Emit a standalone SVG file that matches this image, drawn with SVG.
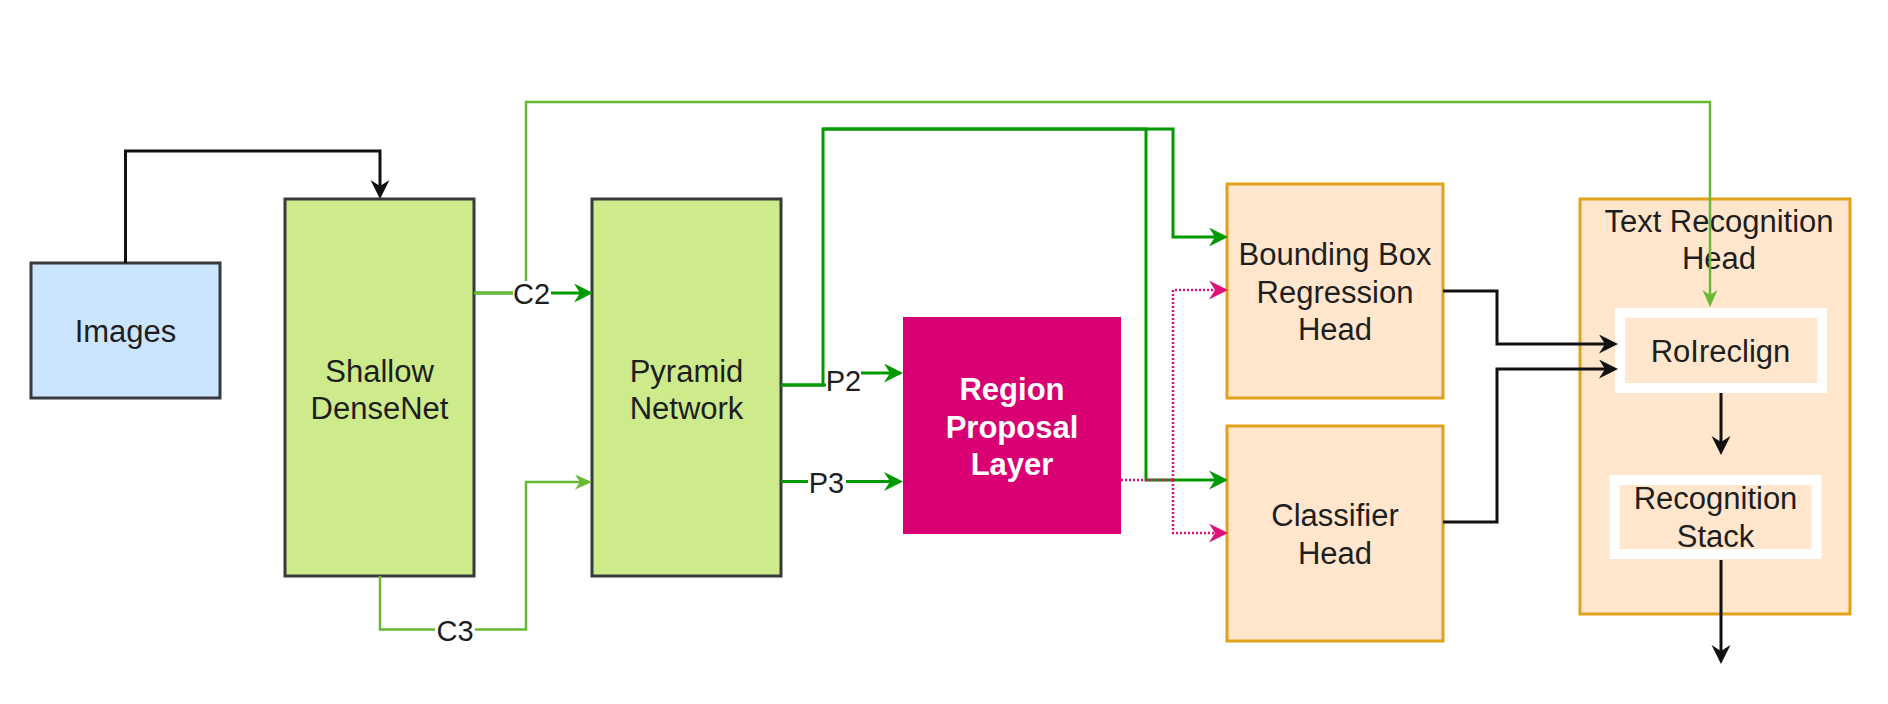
<svg xmlns="http://www.w3.org/2000/svg" width="1888" height="704" viewBox="0 0 1888 704">
<defs>
<style>
.t{font-family:"Liberation Sans",Arial,Helvetica,sans-serif;font-size:31px;fill:#1e1e1e;text-anchor:middle}
.lbl{font-family:"Liberation Sans",Arial,Helvetica,sans-serif;font-size:29px;fill:#1e1e1e;text-anchor:middle}
.wb{fill:#ffffff;font-weight:bold}
.g{fill:#cdeb8b;stroke:#36393d;stroke-width:3}
.o{fill:#ffe6cc;stroke:#e0a21a;stroke-width:3}
.inner{fill:#ffe6cc;stroke:#ffffff;stroke-width:10}
.e{fill:none;stroke-linejoin:miter}
.blk{stroke:#111111;stroke-width:3;marker-end:url(#aBlk)}
.dg{stroke:#009900;stroke-width:3;marker-end:url(#aDg)}
.lg{stroke:#66bb33;stroke-width:2.5;marker-end:url(#aLg)}
.pk{stroke:#e0107a;stroke-width:2.5;stroke-dasharray:2 2;marker-end:url(#aPk)}
.bg{fill:#ffffff}
</style>
<marker id="aBlk" markerUnits="userSpaceOnUse" markerWidth="20" markerHeight="20" refX="6" refY="9.5" orient="auto"><path d="M0,0 L19,9.5 L0,19 L6,9.5 Z" fill="#111111"/></marker>
<marker id="aDg" markerUnits="userSpaceOnUse" markerWidth="20" markerHeight="20" refX="6" refY="9.5" orient="auto"><path d="M0,0 L19,9.5 L0,19 L6,9.5 Z" fill="#009900"/></marker>
<marker id="aLg" markerUnits="userSpaceOnUse" markerWidth="20" markerHeight="20" refX="5" refY="7.5" orient="auto"><path d="M0,0 L17,7.5 L0,15 L5,7.5 Z" fill="#66bb33"/></marker>
<marker id="aPk" markerUnits="userSpaceOnUse" markerWidth="20" markerHeight="20" refX="6" refY="9.5" orient="auto"><path d="M0,0 L19,9.5 L0,19 L6,9.5 Z" fill="#e0107a"/></marker>
</defs>
<rect width="1888" height="704" fill="#ffffff"/>

<g id="images">
<rect x="31" y="263" width="189" height="135" fill="#cce5ff" stroke="#36393d" stroke-width="3"/>
<text class="t" x="125.5" y="342">Images</text>
</g>
<g id="shallow-densenet">
<rect class="g" x="285" y="199" width="189" height="377"/>
<text class="t" x="379.5" y="382">Shallow</text>
<text class="t" x="379.5" y="419">DenseNet</text>
</g>
<g id="pyramid-network">
<rect class="g" x="592" y="199" width="189" height="377"/>
<text class="t" x="686.5" y="381.5">Pyramid</text>
<text class="t" x="686.5" y="418.5">Network</text>
</g>
<g id="region-proposal-layer">
<rect x="903" y="317" width="218" height="217" fill="#d80073"/>
<text class="t wb" x="1012" y="400">Region</text>
<text class="t wb" x="1012" y="437.5">Proposal</text>
<text class="t wb" x="1012" y="475">Layer</text>
</g>
<g id="bounding-box-regression-head">
<rect class="o" x="1227" y="184" width="216" height="214"/>
<text class="t" x="1335" y="265">Bounding Box</text>
<text class="t" x="1335" y="302.5">Regression</text>
<text class="t" x="1335" y="340">Head</text>
</g>
<g id="classifier-head">
<rect class="o" x="1227" y="426" width="216" height="215"/>
<text class="t" x="1335" y="526">Classifier</text>
<text class="t" x="1335" y="563.5">Head</text>
</g>
<g id="text-recognition-head">
<rect class="o" x="1580" y="199" width="270" height="415"/>
<text class="t" x="1719" y="232">Text Recognition</text>
<text class="t" x="1719" y="269">Head</text>
</g>
<g id="roireclign">
<rect class="inner" x="1620" y="313" width="202" height="75"/>
<text class="t" x="1720.5" y="362">RoIreclign</text>
</g>
<g id="recognition-stack">
<rect class="inner" x="1614.5" y="480" width="202" height="74"/>
<text class="t" x="1715.5" y="509">Recognition</text>
<text class="t" x="1715.5" y="546.5">Stack</text>
</g>

<g id="connectors">
<path class="e blk" d="M125.5,263 V151 H380 V186"/>
<path class="e dg" d="M474,293 H580"/>
<path class="e lg" d="M474,293 H526 V102 H1710 V295"/>
<path class="e lg" d="M380,576 V629.5 H526 V482 H580"/>
<path class="e dg" d="M781,385 H823 V129 H1173 V237 H1215"/>
<path class="e dg" d="M823,129 H1146 V480 H1215"/>
<path class="e dg" d="M781,385 H840 V373 H890"/>
<path class="e dg" d="M781,481.5 H890"/>
<path class="e pk" d="M1121,480 H1173 V290 H1215"/>
<path class="e pk" d="M1173,480 V533 H1215"/>
<path class="e blk" d="M1443,291 H1497 V344 H1605"/>
<path class="e blk" d="M1443,522 H1497 V369 H1605"/>
<path class="e blk" d="M1721,393 V442"/>
<path class="e blk" d="M1721,560 V651"/>
<rect class="bg" x="513" y="281" width="38" height="26"/>
<text class="lbl" x="531.5" y="303.5">C2</text>
<rect class="bg" x="435" y="617" width="40" height="26"/>
<text class="lbl" x="455" y="640.5">C3</text>
<rect class="bg" x="826" y="369" width="35" height="25"/>
<text class="lbl" x="843.5" y="391">P2</text>
<rect class="bg" x="808" y="469" width="38" height="26"/>
<text class="lbl" x="826.5" y="492.5">P3</text>
</g>
</svg>
